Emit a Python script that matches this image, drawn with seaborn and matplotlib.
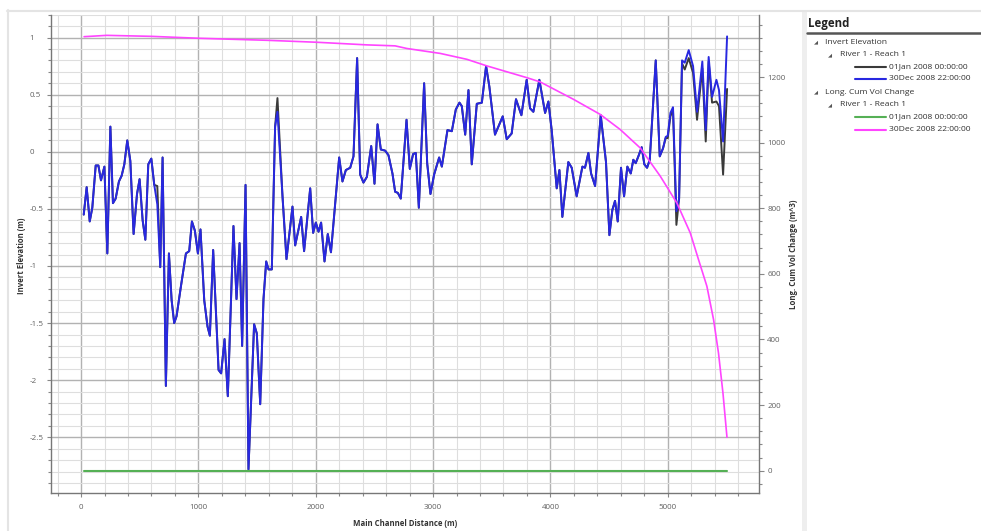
import matplotlib
matplotlib.use("Agg")
import matplotlib.pyplot as plt
from matplotlib.lines import Line2D
from matplotlib.patches import Rectangle
from matplotlib.ticker import MultipleLocator, FixedLocator
import seaborn as sns

# ---- data -------------------------------------------------------------
# main channel stations (m)
station = [
    23, 48, 74, 96, 125, 148, 170, 199, 224, 250,
    272, 295, 323, 346, 369, 394, 420, 448, 477, 499,
    525, 548, 573, 599, 624, 650, 675, 695, 723, 749,
    772, 794, 814, 851, 894, 922, 945, 970, 996, 1018,
    1050, 1078, 1098, 1126, 1172, 1194, 1223, 1251, 1299, 1325,
    1351, 1373, 1402, 1427, 1475, 1498, 1527, 1555, 1578, 1598,
    1626, 1654, 1674, 1717, 1751, 1802, 1825, 1876, 1901, 1953,
    1978, 2001, 2024, 2046, 2075, 2103, 2130, 2200, 2228, 2257,
    2294, 2322, 2353, 2379, 2407, 2436, 2473, 2501, 2527, 2555,
    2592, 2620, 2654, 2677, 2700, 2725, 2774, 2802, 2830, 2853,
    2879, 2924, 2950, 2978, 3009, 3052, 3075, 3123, 3160, 3194,
    3225, 3245, 3274, 3302, 3330, 3373, 3416, 3452, 3480, 3528,
    3557, 3594, 3628, 3670, 3707, 3727, 3753, 3798, 3827, 3855,
    3906, 3955, 3983, 4011, 4054, 4077, 4102, 4153, 4182, 4224,
    4273, 4295, 4324, 4347, 4381, 4429, 4474, 4503, 4528, 4551,
    4574, 4602, 4628, 4656, 4685, 4707, 4727, 4750, 4778, 4801,
    4824, 4847, 4898, 4932, 4960, 4983, 5000, 5023, 5045, 5074,
    5097, 5122, 5145, 5179, 5216, 5250, 5295, 5324, 5349, 5378,
    5415, 5437, 5472, 5506,
]

# invert elevation (m) at 30Dec 2008 22:00:00
invert_30dec = [
    -0.55, -0.31, -0.61, -0.49, -0.12, -0.12, -0.25, -0.13, -0.89, 0.22,
    -0.45, -0.41, -0.26, -0.21, -0.11, 0.10, -0.08, -0.72, -0.37, -0.24,
    -0.60, -0.77, -0.11, -0.06, -0.29, -0.46, -1.01, -0.05, -2.05, -0.89,
    -1.30, -1.50, -1.44, -1.18, -0.89, -0.87, -0.61, -0.69, -0.89, -0.68,
    -1.30, -1.53, -1.61, -0.86, -1.91, -1.94, -1.64, -2.14, -0.65, -1.29,
    -0.80, -1.70, -0.29, -2.78, -1.51, -1.59, -2.21, -1.29, -0.96, -1.03,
    -1.03, 0.22, 0.35, -0.39, -0.94, -0.48, -0.82, -0.57, -0.87, -0.32,
    -0.71, -0.62, -0.70, -0.62, -0.96, -0.72, -0.88, -0.05, -0.26, -0.16,
    -0.14, -0.04, 0.82, -0.20, -0.27, -0.22, 0.05, -0.28, 0.24, 0.02,
    0.01, -0.03, -0.19, -0.35, -0.36, -0.41, 0.28, -0.15, -0.02, -0.01,
    -0.49, 0.60, -0.10, -0.37, -0.20, -0.05, -0.13, 0.19, 0.18, 0.37,
    0.43, 0.40, 0.15, 0.54, -0.11, 0.42, 0.43, 0.75, 0.57, 0.15,
    0.22, 0.31, 0.11, 0.16, 0.46, 0.40, 0.32, 0.63, 0.38, 0.35,
    0.63, 0.34, 0.44, 0.19, -0.32, -0.16, -0.57, -0.09, -0.14, -0.39,
    -0.13, -0.14, -0.01, -0.19, -0.30, 0.32, -0.09, -0.73, -0.51, -0.43,
    -0.61, -0.14, -0.39, -0.13, -0.19, -0.07, -0.10, -0.04, 0.04, -0.11,
    -0.14, -0.07, 0.80, -0.04, 0.03, 0.13, 0.14, 0.34, 0.39, -0.52,
    -0.41, 0.80, 0.78, 0.89, 0.75, 0.35, 0.79, 0.19, 0.83, 0.48,
    0.63, 0.54, 0.09, 1.01,
]

# invert elevation (m) at 01Jan 2008 00:00:00
invert_01jan = [
    -0.55, -0.31, -0.61, -0.49, -0.12, -0.12, -0.25, -0.13, -0.89, 0.22,
    -0.45, -0.41, -0.26, -0.21, -0.11, 0.10, -0.08, -0.72, -0.37, -0.24,
    -0.60, -0.77, -0.11, -0.06, -0.29, -0.30, -1.01, -0.05, -2.05, -0.89,
    -1.30, -1.50, -1.44, -1.18, -0.89, -0.87, -0.61, -0.69, -0.89, -0.68,
    -1.30, -1.53, -1.61, -0.86, -1.91, -1.94, -1.64, -2.14, -0.65, -1.29,
    -0.80, -1.70, -0.29, -2.78, -1.51, -1.59, -2.21, -1.29, -0.96, -1.03,
    -1.03, 0.22, 0.47, -0.39, -0.94, -0.48, -0.82, -0.57, -0.87, -0.32,
    -0.71, -0.62, -0.70, -0.62, -0.96, -0.72, -0.88, -0.05, -0.26, -0.16,
    -0.14, -0.04, 0.82, -0.20, -0.27, -0.22, 0.05, -0.28, 0.24, 0.02,
    0.01, -0.03, -0.19, -0.35, -0.36, -0.41, 0.28, -0.15, -0.02, -0.01,
    -0.49, 0.60, -0.10, -0.37, -0.20, -0.05, -0.13, 0.19, 0.18, 0.37,
    0.43, 0.40, 0.15, 0.54, -0.11, 0.42, 0.43, 0.75, 0.57, 0.15,
    0.22, 0.31, 0.11, 0.16, 0.46, 0.40, 0.32, 0.63, 0.38, 0.35,
    0.63, 0.34, 0.44, 0.19, -0.32, -0.16, -0.57, -0.09, -0.14, -0.39,
    -0.13, -0.14, -0.01, -0.19, -0.30, 0.32, -0.09, -0.73, -0.51, -0.43,
    -0.61, -0.14, -0.39, -0.13, -0.19, -0.07, -0.10, -0.04, 0.04, -0.11,
    -0.14, -0.07, 0.80, -0.04, 0.03, 0.12, 0.12, 0.31, 0.37, -0.64,
    -0.41, 0.775, 0.72, 0.82, 0.69, 0.28, 0.73, 0.09, 0.79, 0.43,
    0.44, 0.40, -0.20, 0.55,
]

# longitudinal cumulative volume change (m^3)
cum_vol_station = [
    26, 219, 600, 1014, 1583, 2009, 2436, 2677, 2777, 3061,
    3288, 3458, 3800, 3913, 4197, 4425, 4595, 4765, 4936, 5078,
    5192, 5263, 5334, 5391, 5433, 5471, 5505,
]
cum_vol_30dec = [
    1323, 1327, 1324, 1318, 1312, 1306, 1298, 1295, 1287, 1272,
    1254, 1234, 1198, 1185, 1132, 1086, 1040, 984, 898, 816,
    725, 643, 562, 460, 358, 236, 102,
]
cum_vol_01jan_station = [23, 5506]
cum_vol_01jan = [0, 0]

x_ticks = [0, 1000, 2000, 3000, 4000, 5000]
left_ticks = [1, 0.5, 0, -0.5, -1, -1.5, -2, -2.5]
right_ticks = [0, 200, 400, 600, 800, 1000, 1200]

legend_rows = [
    ("group", "Invert Elevation"),
    ("reach", "River 1 - Reach 1"),
    ("series", "01Jan 2008 00:00:00"),
    ("series", "30Dec 2008 22:00:00"),
    ("group", "Long. Cum Vol Change"),
    ("reach", "River 1 - Reach 1"),
    ("series", "01Jan 2008 00:00:00"),
    ("series", "30Dec 2008 22:00:00"),
]

C_BLACK = "#3a3a3a"
C_BLUE = "#2828e0"
C_GREEN = "#55b055"
C_PINK = "#ff45ff"
series_colors = [C_BLACK, C_BLUE, C_GREEN, C_PINK]

# ---- style ------------------------------------------------------------
sns.set_style("white")
plt.rcParams["font.family"] = ["Open Sans", "DejaVu Sans"]
plt.rcParams["axes.unicode_minus"] = False

W, H = 981, 531
fig = plt.figure(figsize=(W / 100, H / 100), dpi=100)
fig.patch.set_facecolor("white")


def fx(px):
    return px / W


def fy(py):
    return 1 - py / H


L, R, T, B = 51, 759, 14.7, 493.3
ax = fig.add_axes([fx(L), fy(B), (R - L) / W, (B - T) / H])
ax.set_facecolor("white")

# elevation profiles
sns.lineplot(x=station, y=invert_01jan, ax=ax, color=C_BLACK, lw=1.4,
             estimator=None, sort=False, legend=False)
sns.lineplot(x=station, y=invert_30dec, ax=ax, color=C_BLUE, lw=1.4,
             estimator=None, sort=False, legend=False)

ax.set_xlim(-256, 5778)
ax.set_ylim(-2.99, 1.2)
ax.xaxis.set_major_locator(FixedLocator(x_ticks))
ax.xaxis.set_minor_locator(MultipleLocator(200))
ax.yaxis.set_major_locator(FixedLocator(left_ticks))
ax.yaxis.set_minor_locator(MultipleLocator(0.1))
ax.set_xticklabels([str(v) for v in x_ticks])
ax.set_yticklabels([f"{v:g}" for v in left_ticks])
ax.set_axisbelow(True)
ax.grid(which="major", color="#b2b2b2", lw=1.0)
ax.grid(which="minor", color="#dedede", lw=0.8)
ax.set_xlabel("")
ax.set_ylabel("")

for side in ("top", "right"):
    ax.spines[side].set_visible(False)
for side in ("left", "bottom"):
    ax.spines[side].set_color("#777777")
    ax.spines[side].set_linewidth(1.0)

ax.tick_params(axis="both", which="both", direction="out", color="#888888",
               labelcolor="#606060", labelsize=5.8, width=0.8)
ax.tick_params(axis="x", which="major", length=3, pad=5)
ax.tick_params(axis="x", which="minor", length=2)
ax.tick_params(axis="y", which="major", length=3, pad=12.5)
ax.tick_params(axis="y", which="minor", length=2)
ax.tick_params(axis="both", which="both", bottom=True, left=True)
for t in ax.get_yticklabels():
    t.set_horizontalalignment("left")

# cumulative volume change on the secondary axis
ax2 = ax.twinx()
sns.lineplot(x=cum_vol_01jan_station, y=cum_vol_01jan, ax=ax2, color=C_GREEN,
             lw=1.5, estimator=None, sort=False, legend=False)
sns.lineplot(x=cum_vol_station, y=cum_vol_30dec, ax=ax2, color=C_PINK,
             lw=1.2, estimator=None, sort=False, legend=False)
ax2.set_ylim(-69, 1390)
ax2.yaxis.set_major_locator(FixedLocator(right_ticks))
ax2.yaxis.set_minor_locator(MultipleLocator(40))
ax2.set_yticklabels([str(v) for v in right_ticks])
ax2.grid(False)
ax2.set_ylabel("")
for side in ("top", "left", "bottom"):
    ax2.spines[side].set_visible(False)
ax2.spines["right"].set_color("#777777")
ax2.spines["right"].set_linewidth(1.0)
ax2.tick_params(axis="y", which="both", direction="out", color="#888888",
                labelcolor="#606060", labelsize=5.8, width=0.8, right=True)
ax2.tick_params(axis="y", which="major", length=3.5, pad=2.5)
ax2.tick_params(axis="y", which="minor", length=2)

# axis titles
lab = dict(fontsize=5.6, fontweight="bold", color="#333333")
fig.text(fx(405), fy(523), "Main Channel Distance (m)", ha="center", va="center", **lab)
fig.text(fx(22), fy(256), "Invert Elevation (m)", rotation=90, ha="center", va="center", **lab)
fig.text(fx(793), fy(254), "Long. Cum Vol Change (m^3)", rotation=90, ha="center", va="center", **lab)

# panel frame and separator
frame = "#e4e4e4"
fig.add_artist(Line2D([fx(7), fx(981)], [fy(10.5), fy(10.5)], color=frame, lw=1.5))
fig.add_artist(Line2D([fx(7.5), fx(7.5)], [fy(10), fy(531)], color=frame, lw=1.5))
fig.add_artist(Rectangle((fx(802), fy(531)), 5 / W, (531 - 11) / H,
                         facecolor="#eeeeee", edgecolor="none"))

# legend panel
fig.text(fx(808), fy(23), "Legend", fontsize=8.3, fontweight="bold",
         color="#222222", ha="left", va="center")
fig.add_artist(Line2D([fx(807), fx(981)], [fy(32.5), fy(32.5)], color="#555555", lw=1.8))

row_y = [42, 54.5, 66.5, 79, 92, 104.5, 117, 129.5]
k = 0
for (kind, label), yy in zip(legend_rows, row_y):
    if kind == "group":
        fig.text(fx(815.5), fy(yy), "\u25e2", fontsize=3.8, color="#555555",
                 ha="center", va="center", family="DejaVu Sans")
        fig.text(fx(825), fy(yy), label, fontsize=6.1, color="#333333",
                 ha="left", va="center")
    elif kind == "reach":
        fig.text(fx(829.5), fy(yy), "\u25e2", fontsize=3.8, color="#555555",
                 ha="center", va="center", family="DejaVu Sans")
        fig.text(fx(840), fy(yy), label, fontsize=6.1, color="#333333",
                 ha="left", va="center")
    else:
        fig.add_artist(Line2D([fx(855), fx(886)], [fy(yy), fy(yy)],
                              color=series_colors[k], lw=1.5))
        fig.text(fx(889), fy(yy), label, fontsize=6.1, color="#333333",
                 ha="left", va="center")
        k += 1

fig.savefig("out.png", dpi=100, facecolor="white")
